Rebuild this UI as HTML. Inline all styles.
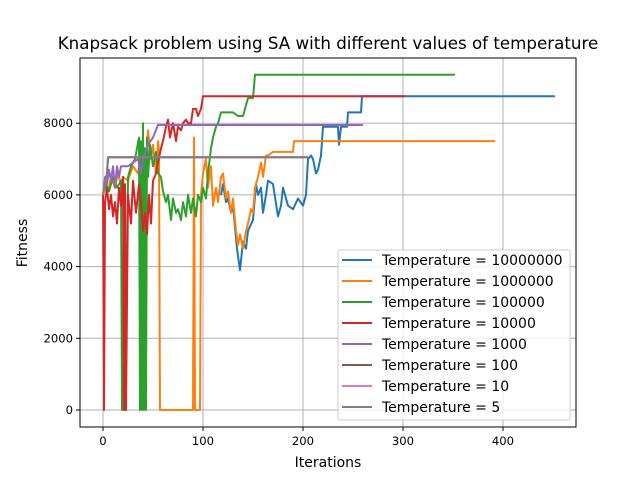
<!DOCTYPE html>
<html><head><meta charset="utf-8"><style>
body{margin:0;background:#fff;}
svg{font-family:"DejaVu Sans","Liberation Sans",sans-serif;}
</style></head><body>
<svg id="chart" width="640" height="480" viewBox="0 0 640 480">
<rect width="640" height="480" fill="#fff"/>
<text x="328" y="49" text-anchor="middle" font-size="16.7">Knapsack problem using SA with different values of temperature</text>
<g id="grid"></g>
<g id="series"></g>
<rect x="80" y="58" width="496" height="369" fill="none" stroke="#000" stroke-width="1"/>
<g id="ticks"></g>
<text x="328" y="467" text-anchor="middle" font-size="14">Iterations</text>
<text transform="translate(27,243) rotate(-90)" text-anchor="middle" font-size="14">Fitness</text>
<g id="legend"></g>
</svg>
<script>
const xTicks=[0,100,200,300,400];
const yTicks=[0,2000,4000,6000,8000];
const labels=["Temperature = 10000000","Temperature = 1000000","Temperature = 100000","Temperature = 10000","Temperature = 1000","Temperature = 100","Temperature = 10","Temperature = 5"];
const colors=["#1f77b4","#ff7f0e","#2ca02c","#d62728","#9467bd","#8c564b","#e377c2","#7f7f7f"];
const itersBlue=[118,120,123,125,128,130,134,137,140,143,145,150,153,155,158,160,163,165,170,175,178,180,185,190,195,200,203,205,208,210,213,215,218,220,225,235,236,238,240,244,245,258,259,452];
const fitBlue=[6000,6300,5800,5900,5500,5700,4500,3900,4700,4500,5000,5300,6300,6000,6200,5500,6000,6400,6300,5400,5700,6200,5700,5600,5900,5700,6000,7000,7100,7000,6600,6700,7100,7900,7900,7900,7400,7900,7900,7900,8300,8300,8750,8750];
const itersOrange=[0,3,5,8,12,15,18,20,25,30,35,38,40,43,45,48,50,53,55,56,57,90,91,92,97,98,100,103,105,108,110,113,115,118,120,123,125,128,130,133,135,137,140,143,145,148,150,152,155,158,160,163,165,170,190,191,392];
const fitOrange=[6000,6300,6100,6500,6200,6600,6300,6500,6400,6800,6600,7000,7400,6800,7800,7000,7400,6600,7500,7200,0,0,7600,0,0,6000,6600,7000,6200,6800,5700,6200,5800,6500,6600,5900,6100,5500,5900,5000,4600,4900,4500,5000,5200,5600,5500,6200,6500,6900,6500,7100,7100,7200,7200,7500,7500];
const itersGreen=[0,3,6,10,14,18,19,21,22,25,28,32,36,37,38,39,40,41,42,43,44,45,47,50,53,55,58,60,63,65,68,70,73,75,78,80,83,85,88,90,93,95,98,100,103,105,108,110,113,115,118,120,130,135,140,145,150,152,352];
const fitGreen=[6000,6300,6100,6500,6200,6400,0,6300,0,6500,6800,7000,7600,0,7500,0,8000,0,7300,0,7600,6500,7400,6800,7200,6600,6500,6100,5800,6000,5300,5900,5500,5600,5300,5800,5400,6000,5500,5900,5400,6000,5800,6200,5900,6600,7300,7600,7900,8000,8300,8300,8300,8200,8200,8700,8700,9350,9350];
const itersRed=[0,1,2,4,6,8,10,12,14,16,18,20,21,22,23,25,28,30,33,36,38,40,42,44,46,48,50,53,55,58,60,63,65,67,70,73,75,78,80,83,85,88,90,93,95,98,100,302];
const fitRed=[6000,0,5800,6200,5600,6000,5400,5800,5200,6200,5700,6500,0,6300,0,6000,5200,6400,5500,6300,5800,5000,5500,4900,6000,5200,6400,6600,6900,7300,7500,7900,8100,7600,8000,7500,7900,7800,8000,8100,8000,8000,8400,8400,8200,8400,8750,8750];
const itersPurple=[0,2,4,6,8,10,12,14,16,18,20,25,30,35,38,40,45,50,55,260];
const fitPurple=[6000,6500,6300,6700,6400,6800,6200,6800,6500,6800,6800,6800,6900,7000,6600,7000,7400,7600,7950,7950];
const itersGray=[0,2,4,5,205];
const fitGray=[6000,6300,6600,7050,7050];
const seriesX=[itersBlue,itersOrange,itersGreen,itersRed,itersPurple,itersGray,itersGray,itersGray];
const seriesY=[fitBlue,fitOrange,fitGreen,fitRed,fitPurple,fitGray,fitGray,fitGray];
const seriesNames=["series-t10000000","series-t1000000","series-t100000","series-t10000","series-t1000","series-t100","series-t10","series-t5"];

const X0=80,X1=576,Y0=58,Y1=427;
const xs=v=>103+v*1.0;
const ys=v=>410-v*0.03585;
const NS="http://www.w3.org/2000/svg";
function mk(t,a,p){const e=document.createElementNS(NS,t);for(const k in a)e.setAttribute(k,a[k]);p.appendChild(e);return e;}
const grid=document.getElementById('grid'),ticks=document.getElementById('ticks');
xTicks.forEach(v=>{
  const g=mk('line',{x1:xs(v),x2:xs(v),y1:Y0,y2:Y1,stroke:'#b0b0b0','stroke-width':1},grid);
  
  
  const t=mk('line',{x1:xs(v),x2:xs(v),y1:Y1,y2:Y1+4,stroke:'#000','stroke-width':1},ticks);
  
  
  const l=mk('text',{x:xs(v),y:Y1+18,'text-anchor':'middle','font-size':11.6},ticks);
  l.textContent=v;
  
  
});
yTicks.forEach(v=>{
  const g=mk('line',{x1:X0,x2:X1,y1:ys(v),y2:ys(v),stroke:'#b0b0b0','stroke-width':1},grid);
  
  
  const t=mk('line',{x1:X0-4,x2:X0,y1:ys(v),y2:ys(v),stroke:'#000','stroke-width':1},ticks);
  
  
  const l=mk('text',{x:X0-7,y:ys(v)+4,'text-anchor':'end','font-size':11.6},ticks);
  l.textContent=v;
  
  
});
const sg=document.getElementById('series');
for(let i=0;i<seriesX.length;i++){
  const pts=seriesX[i].map((x,j)=>xs(x).toFixed(1)+','+ys(seriesY[i][j]).toFixed(1)).join(' ');
  const p=mk('polyline',{points:pts,fill:'none',stroke:colors[i],'stroke-width':2,'stroke-linejoin':'round'},sg);
  
  
}
const lg=document.getElementById('legend');
const box=mk('rect',{x:338,y:250,width:232,height:170,rx:2,fill:'#fff','fill-opacity':0.8,stroke:'#ccc','stroke-width':1},lg);


labels.forEach((s,i)=>{
  const y=260+i*21;
  const ln=mk('line',{x1:342,x2:372,y1:y,y2:y,stroke:colors[i],'stroke-width':2},lg);
  
  
  const t=mk('text',{x:382,y:y+5,'font-size':14},lg);
  t.textContent=s;
  
  
});
</script>
</body></html>
